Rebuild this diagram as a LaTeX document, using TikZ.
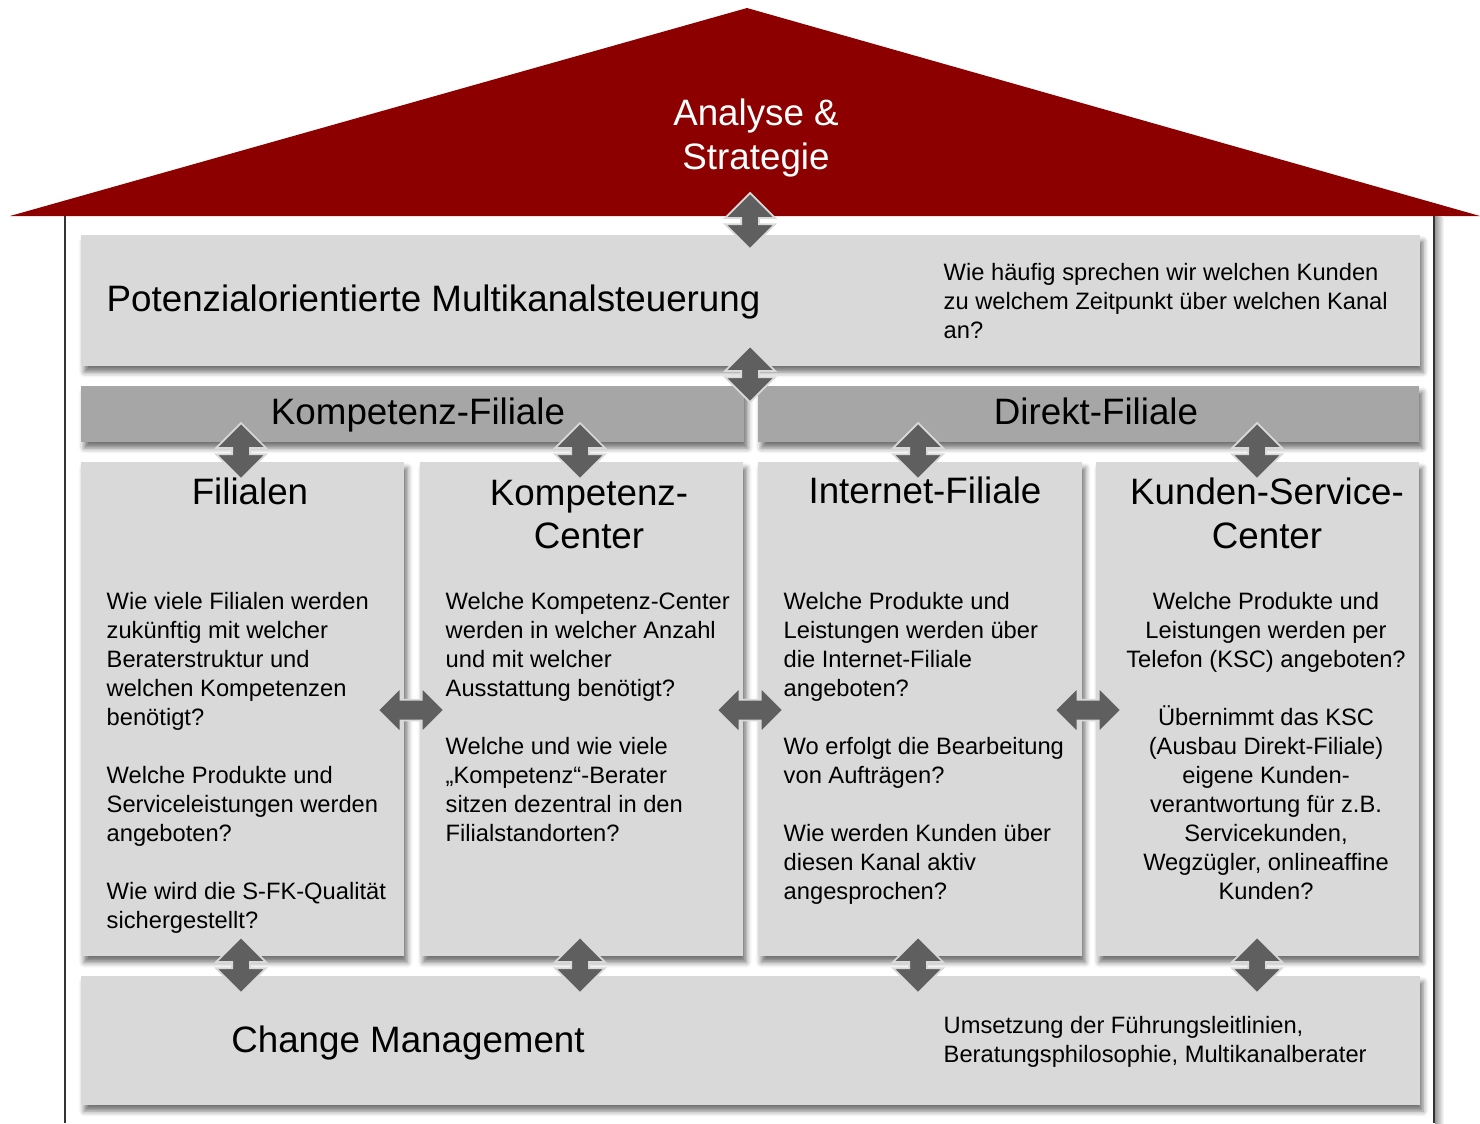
\documentclass[tikz,border=0pt]{standalone}
\usepackage{fontspec}
\setmainfont{Liberation Sans}
\usetikzlibrary{shapes.arrows,shadows.blur}

\definecolor{roofred}{RGB}{140,0,0}
\definecolor{boxgray}{RGB}{217,217,217}
\definecolor{bargray}{RGB}{166,166,166}
\definecolor{arrowgray}{RGB}{95,95,95}
\newcommand{\housebig}{\fontsize{10.45pt}{12.5pt}\selectfont}
\newcommand{\housesmall}{\fontsize{6.74pt}{8.25pt}\selectfont}

\begin{document}
\begin{tikzpicture}[x=0.01cm,y=-0.01cm,
    box/.style={fill=boxgray,inner sep=0,anchor=north west,
      blur shadow={shadow xshift=1pt,shadow yshift=-1.8pt,shadow blur radius=1.5pt,shadow opacity=55}},
    bar/.style={box,fill=bargray},
    title/.style={font=\housebig,inner sep=0,align=center},
    body/.style={font=\housesmall,inner sep=0,align=left,anchor=north west},
    vboth/.style={double arrow,shape border rotate=90,fill=arrowgray,draw=white!85!black,line width=0.5pt,
      inner sep=0.08cm,double arrow head extend=0.16cm,minimum height=0.56cm},
    hboth/.style={double arrow,fill=arrowgray,draw=white!85!black,line width=0.5pt,
      inner sep=0.095cm,double arrow head extend=0.12cm,minimum height=0.66cm}]
  \useasboundingbox (0,0) rectangle (1480,1123);
  \fill[roofred] (10,216) -- (747,8) -- (1480,216) -- cycle;
  \draw[black!80,line width=0.35pt] (65,216) -- (65,1123);
  \shade[left color=black!40,right color=white] (1435,216) rectangle (1444,1123);
  \draw[black!80,line width=0.35pt] (1434,216) -- (1434,1123);

  \node[title,text=white,anchor=north] (strat) at (756,98) {Analyse \&\\Strategie};

  \node[box,minimum width=13.38cm,minimum height=1.31cm] (potenz) at (80,234) {};
  \node[bar,minimum width=6.63cm,minimum height=0.56cm] (kompbar) at (80,385) {};
  \node[bar,minimum width=6.61cm,minimum height=0.56cm] (direktbar) at (757,385) {};
  \node[box,minimum width=3.23cm,minimum height=4.94cm] (filialen) at (80,461) {};
  \node[box,minimum width=3.23cm,minimum height=4.94cm] (kompcenter) at (419,461) {};
  \node[box,minimum width=3.24cm,minimum height=4.94cm] (internet) at (757,461) {};
  \node[box,minimum width=3.23cm,minimum height=4.94cm] (ksc) at (1095,461) {};
  \node[box,minimum width=13.38cm,minimum height=1.29cm] (change) at (80,975) {};

  \node[title,anchor=base west] (potenz title) at (106,311) {Potenzialorientierte Multikanalsteuerung};
  \node[body] (potenz text) at (943,262.5) {Wie häufig sprechen wir welchen Kunden\\zu welchem Zeitpunkt über welchen Kanal\\an?};
  \node[title,anchor=base] (kompbar title) at (418,424) {Kompetenz-Filiale};
  \node[title,anchor=base] (direktbar title) at (1096,424) {Direkt-Filiale};

  \node[title,anchor=base] (filialen title) at (250,504) {Filialen};
  \node[title,anchor=north] (kompcenter title) at (589,479) {Kompetenz-\\Center};
  \node[title,anchor=base] (internet title) at (925,503) {Internet-Filiale};
  \node[title,anchor=north] (ksc title) at (1267,477) {Kunden-Service-\\Center};

  \node[body] (filialen text) at (106,591.5) {Wie viele Filialen werden\\zukünftig mit welcher\\Beraterstruktur und\\welchen Kompetenzen\\benötigt?\\[8.25pt]Welche Produkte und\\Serviceleistungen werden\\angeboten?\\[8.25pt]Wie wird die S-FK-Qualität\\sichergestellt?};
  \node[body] (kompcenter text) at (445,591.5) {Welche Kompetenz-Center\\werden in welcher Anzahl\\und mit welcher\\Ausstattung benötigt?\\[8.25pt]Welche und wie viele\\„Kompetenz“-Berater\\sitzen dezentral in den\\Filialstandorten?};
  \node[body] (internet text) at (783,591.5) {Welche Produkte und\\Leistungen werden über\\die Internet-Filiale\\angeboten?\\[8.25pt]Wo erfolgt die Bearbeitung\\von Aufträgen?\\[8.25pt]Wie werden Kunden über\\diesen Kanal aktiv\\angesprochen?};
  \node[body,align=center,anchor=north] (ksc text) at (1266,591.5) {Welche Produkte und\\Leistungen werden per\\Telefon (KSC) angeboten?\\[8.25pt]Übernimmt das KSC\\(Ausbau Direkt-Filiale)\\eigene Kunden-\\verantwortung für z.B.\\Servicekunden,\\Wegzügler, onlineaffine\\Kunden?};

  \node[title,anchor=base] (change title) at (408,1052) {Change Management};
  \node[body] (change text) at (943,1015.5) {Umsetzung der Führungsleitlinien,\\Beratungsphilosophie, Multikanalberater};

  \node[vboth] (roof arrow) at (750,221) {};
  \node[vboth] (potenz arrow) at (750,374) {};
  \node[vboth] (filialen in) at (241,451) {};
  \node[vboth] (kompcenter in) at (580,451) {};
  \node[vboth] (internet in) at (918,451) {};
  \node[vboth] (ksc in) at (1257,451) {};
  \node[vboth] (filialen out) at (241,965) {};
  \node[vboth] (kompcenter out) at (580,965) {};
  \node[vboth] (internet out) at (918,965) {};
  \node[vboth] (ksc out) at (1257,965) {};
  \node[hboth] (fil komp) at (411,710) {};
  \node[hboth] (komp int) at (750,710) {};
  \node[hboth] (int ksc) at (1088,710) {};
\end{tikzpicture}
\end{document}
